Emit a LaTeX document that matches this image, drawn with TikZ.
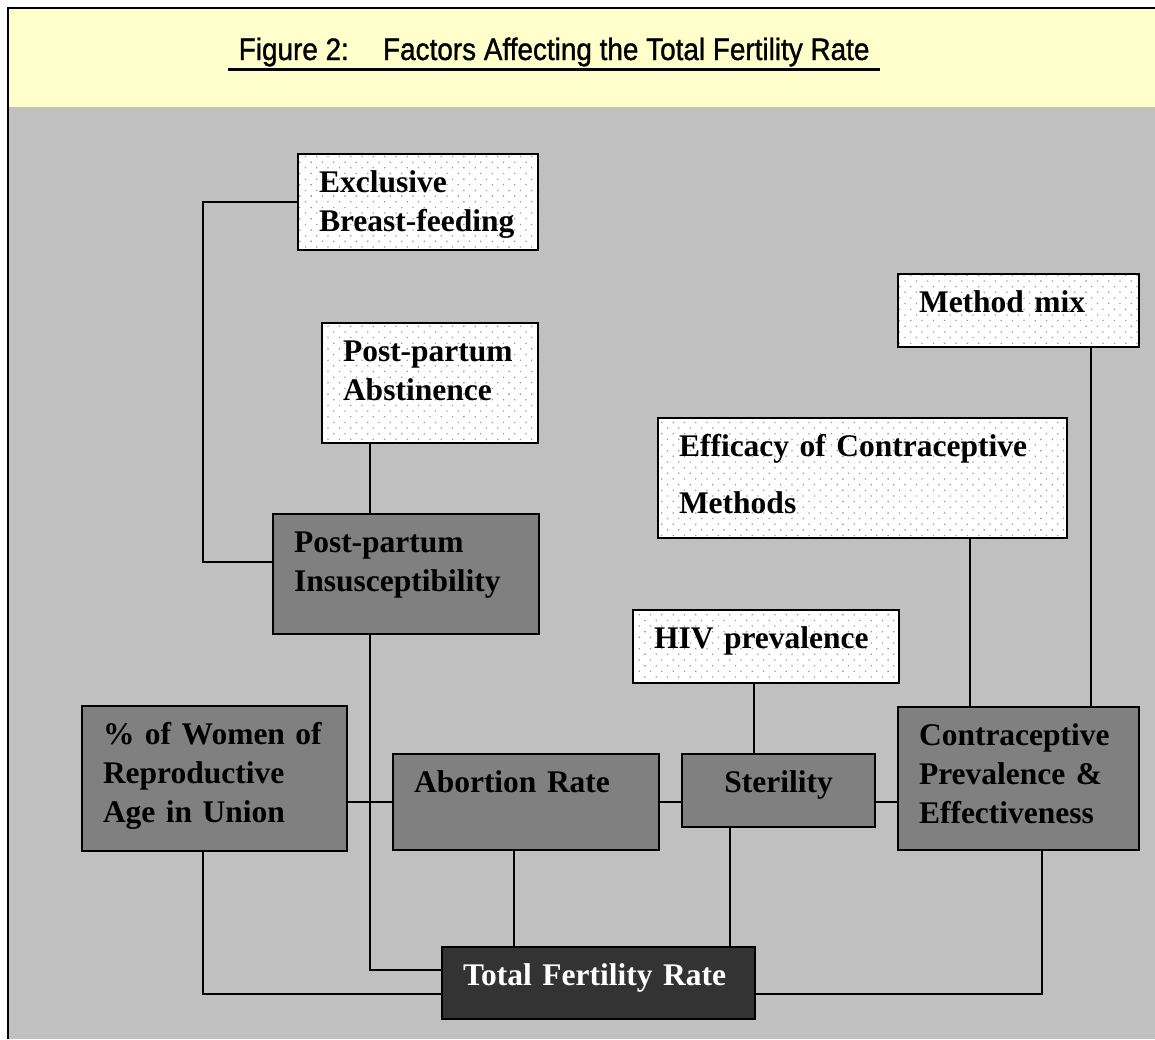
\documentclass[tikz,border=0pt]{standalone}
\usepackage{fontspec}
\setmainfont{Liberation Serif}
\newfontfamily\titlefont[FakeBold=1.2]{Liberation Sans}
\usetikzlibrary{calc,patterns.meta}
\definecolor{bggray}{HTML}{C0C0C0}
\definecolor{bandyellow}{HTML}{FFFFCC}
\definecolor{midgray}{HTML}{808080}
\definecolor{darkbox}{HTML}{333333}

\begin{document}
\begin{tikzpicture}[x=1pt,y=-1pt,line width=1.6pt,
    box/.style={draw=black,anchor=north west,inner ysep=0pt,inner xsep=21pt,outer sep=0pt,
      align=left,text height=38pt,font=\bfseries\fontsize{31.5}{39}\selectfont},
    factor/.style={box,preaction={fill=white},
      pattern={Dots[distance=8pt,angle=45,radius=0.9pt]},pattern color=black!40},
    rate/.style={box,fill=midgray},
    total/.style={box,fill=darkbox,text=white}]
  \useasboundingbox (0,0) rectangle (1155,1039);
  % background and title band
  \fill[white] (0,0) rectangle (1155,1039);
  \fill[bandyellow] (8,8) rectangle (1155,107);
  \fill[bggray] (8,107) rectangle (1155,1039);
  \draw[line width=2pt] (8,1039) -- (8,8) -- (1155,8);
  \node[font=\titlefont\fontsize{31}{36}\selectfont,anchor=base west,inner sep=0pt] (title) at (238,60)
    {\scalebox{0.9}[1]{Figure 2:\hspace{38pt}Factors Affecting the Total Fertility Rate}};
  \draw[line width=3pt] ([xshift=-10pt,yshift=-9pt]title.base west) -- ([xshift=10pt,yshift=-9pt]title.base east);

  % boxes
  \node[factor,text width=198pt,text depth=58pt] (excl) at (298,154) {Exclusive\\Breast-feeding};
  \node[factor,text width=174pt,text depth=82pt] (abst) at (322,323) {Post-partum\\Abstinence};
  \node[factor,text width=199pt,text depth=35pt] (mmix) at (898,274) {Method mix};
  \node[factor,text width=367pt,text depth=82pt] (effic) at (658,418) {Efficacy of Contraceptive\\[18pt]Methods};
  \node[factor,text width=224pt,text depth=35pt] (hiv) at (633,610) {HIV prevalence};
  \node[rate,text width=224pt,text depth=82pt] (insus) at (273,514) {Post-partum\\Insusceptibility};
  \node[rate,text width=223pt,text depth=107pt] (women) at (82,706) {\% of Women of\\Reproductive\\Age in Union};
  \node[rate,text width=224pt,text depth=58pt] (abort) at (393,754) {Abortion Rate};
  \node[rate,text width=151pt,text depth=35pt,align=center] (steril) at (682,754) {Sterility};
  \node[rate,text width=199pt,text depth=105pt] (contra) at (898,707) {Contraceptive\\Prevalence \&\\Effectiveness};
  \node[total,text width=271pt,text depth=34pt] (tfr) at (442,947) {Total Fertility Rate};

  % connector columns and rows
  \coordinate (xa) at (370,0);
  \coordinate (xb) at (203,0);
  \coordinate (xc) at (514,0);
  \coordinate (xd) at (730,0);
  \coordinate (xe) at (754,0);
  \coordinate (xf) at (970,0);
  \coordinate (xg) at (1091,0);
  \coordinate (xh) at (1042,0);
  \coordinate (ya) at (0,970);
  \coordinate (yb) at (0,994);
  \coordinate (yc) at (0,562);

  \draw (excl.west) -| (xb |- yc) -- (insus.west |- yc);
  \draw (abst.south -| xa) -- (insus.north -| xa);
  \draw (insus.south -| xa) |- (tfr.west |- ya);
  \draw (women.south -| xb) |- (tfr.west |- yb);
  \draw (women.east |- abort.west) -- (abort.west);
  \draw (abort.east) -- (steril.west |- abort.east);
  \draw (steril.east |- abort.east) -- (contra.west |- abort.east);
  \draw (abort.south -| xc) -- (tfr.north -| xc);
  \draw (steril.south -| xd) -- (tfr.north -| xd);
  \draw (hiv.south -| xe) -- (steril.north -| xe);
  \draw (effic.south -| xf) -- (contra.north -| xf);
  \draw (mmix.south -| xg) -- (contra.north -| xg);
  \draw (contra.south -| xh) |- (tfr.east |- yb);
\end{tikzpicture}
\end{document}
